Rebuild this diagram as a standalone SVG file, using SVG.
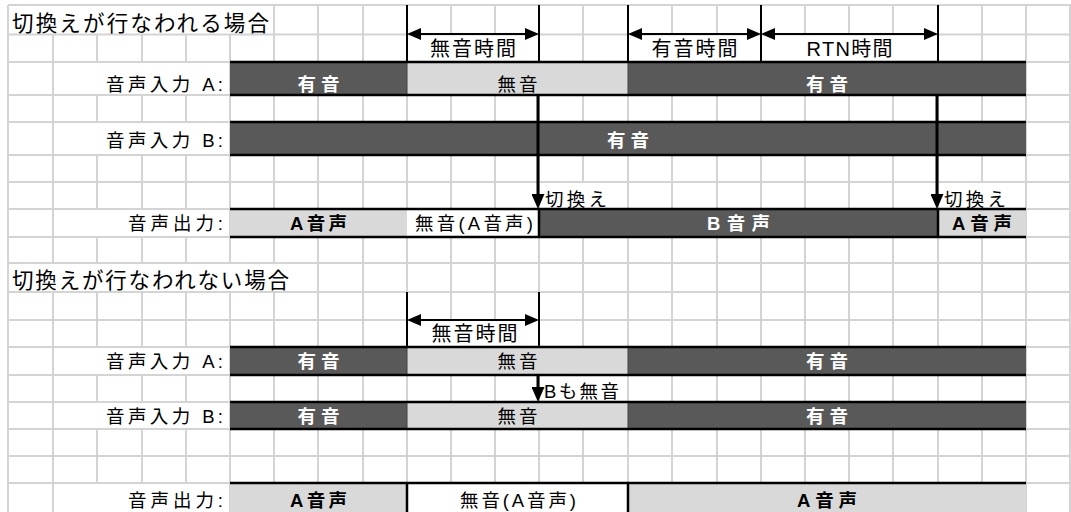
<svg xmlns="http://www.w3.org/2000/svg" width="1071" height="512" viewBox="0 0 1071 512">
<style>
.t{font-family:"Liberation Sans","Noto Sans CJK JP",sans-serif;font-size:18.5px;fill:#000;dominant-baseline:central}
.ttl{font-size:21.5px}
.tm{font-size:20px}
.w{fill:#fff;font-weight:bold}
.b{font-weight:bold}
.g{stroke:#d4d4d4;stroke-width:2;fill:none}
.dk{fill:#595959}
.lt{fill:#d9d9d9}
.wh{fill:#fff}
.bl{stroke:#000;stroke-width:2.5;fill:none}
.thin{stroke:#404040;stroke-width:1;fill:none}
.ln{stroke:#000;stroke-width:2;fill:none}
.arr{stroke:#000;stroke-width:2;fill:none;marker-start:url(#ah);marker-end:url(#ah)}
.dn{stroke:#000;stroke-width:3;fill:none;marker-end:url(#ad)}
</style>
<defs>
<marker id="ah" viewBox="0 0 14 12" refX="11" refY="6" markerWidth="14" markerHeight="12" markerUnits="userSpaceOnUse" orient="auto-start-reverse"><path d="M0,0L14,6L0,12z" fill="#000"/></marker>
<marker id="ad" viewBox="0 0 15 13" refX="9" refY="6.5" markerWidth="15" markerHeight="13" markerUnits="userSpaceOnUse" orient="auto"><path d="M0,0L15,6.5L0,13z" fill="#000"/></marker>
</defs>
<rect width="1071" height="512" fill="#fff"/>
<g id="grid" class="g">
<path d="M8,5H1071M8,34.5H1071M8,62H1071M8,95H1071M8,122H1071M8,155H1071M8,182H1071M8,209H1071M8,237H1071M8,263H1071M8,292H1071M8,320H1071M8,347H1071M8,375H1071M8,402H1071M8,429H1071M8,456H1071M8,483H1071"/>
<path d="M8,5V512M53,34.5V263M53,292V512
M97,34.5V62M97,95V122M97,155V209M97,237V263M97,292V347M97,375V402M97,429V483
M142,34.5V62M142,95V122M142,155V209M142,237V263M142,292V347M142,375V402M142,429V483
M186,34.5V62M186,95V122M186,155V209M186,237V263M186,292V347M186,375V402M186,429V483
M230,34.5V263M230,292V512M274,5V263M274,292V512M318,5V512M363,5V512M407,5V512
M451,5V34.5M451,62V320M451,347V512M495,5V34.5M495,62V320M495,347V512
M539,5V512M583,5V182M583,209V375M583,402V512M628,5V512
M672,5V34.5M672,62V512M717,5V34.5M717,62V512M761,5V512
M805,5V34.5M805,62V512M849,5V34.5M849,62V512M893,5V34.5M893,62V512
M938,5V512M982,5V182M982,209V512M1026,5V512M1070,5V512"/>
</g>
<g id="title-1"><text class="t ttl" x="12" y="24" textLength="257">切換えが行なわれる場合</text></g>
<g id="input-a-1">
<text class="t" x="223" y="84" text-anchor="end" textLength="117">音声入力 A:</text>
<rect class="dk" x="230" y="62" width="177" height="33"/>
<rect class="lt" x="407" y="62" width="221" height="33"/>
<rect class="dk" x="628" y="62" width="398" height="33"/>
<path class="thin" d="M407,62V95M628,62V95"/>
<path class="bl" d="M230,62H1026M230,95H1026"/>
<text class="t w" x="318.5" y="84" text-anchor="middle" textLength="42">有音</text>
<text class="t" x="517.5" y="84" text-anchor="middle" textLength="40">無音</text>
<text class="t w" x="827" y="84" text-anchor="middle" textLength="42">有音</text>
</g>
<g id="input-b-1">
<text class="t" x="223" y="140.5" text-anchor="end" textLength="117">音声入力 B:</text>
<rect class="dk" x="230" y="122" width="796" height="33"/>
<path class="bl" d="M230,122H1026M230,155H1026"/>
<text class="t w" x="628" y="140.5" text-anchor="middle" textLength="42">有音</text>
</g>
<g id="output-1">
<text class="t" x="223" y="223.5" text-anchor="end" textLength="95">音声出力:</text>
<rect class="lt" x="230" y="209" width="177" height="28"/>
<rect class="wh" x="407" y="209" width="132" height="28"/>
<rect class="dk" x="539" y="209" width="399" height="28"/>
<rect class="lt" x="938" y="209" width="88" height="28"/>
<path class="bl" d="M230,209H1026M230,237H1026M539,209V237M938,209V237"/>
<text class="t b" x="318.5" y="223.5" text-anchor="middle" textLength="57">A音声</text>
<text class="t" x="474" y="223.5" text-anchor="middle" textLength="118">無音(A音声)</text>
<text class="t w" x="738.5" y="223.5" text-anchor="middle" textLength="63">B音声</text>
<text class="t b" x="982" y="223.5" text-anchor="middle" textLength="60">A音声</text>
</g>
<g id="title-2"><text class="t ttl" x="12" y="281" textLength="277">切換えが行なわれない場合</text></g>
<g id="input-a-2">
<text class="t" x="223" y="361.5" text-anchor="end" textLength="117">音声入力 A:</text>
<rect class="dk" x="230" y="347" width="177" height="28"/>
<rect class="lt" x="407" y="347" width="221" height="28"/>
<rect class="dk" x="628" y="347" width="398" height="28"/>
<path class="thin" d="M407,347V375M628,347V375"/>
<path class="bl" d="M230,347H1026M230,375H1026"/>
<text class="t w" x="318.5" y="361.5" text-anchor="middle" textLength="42">有音</text>
<text class="t" x="517.5" y="361.5" text-anchor="middle" textLength="40">無音</text>
<text class="t w" x="827" y="361.5" text-anchor="middle" textLength="42">有音</text>
</g>
<g id="input-b-2">
<text class="t" x="223" y="416.5" text-anchor="end" textLength="117">音声入力 B:</text>
<rect class="dk" x="230" y="402" width="177" height="27"/>
<rect class="lt" x="407" y="402" width="221" height="27"/>
<rect class="dk" x="628" y="402" width="398" height="27"/>
<path class="thin" d="M407,402V429M628,402V429"/>
<path class="bl" d="M230,402H1026M230,429H1026"/>
<text class="t w" x="318.5" y="416.5" text-anchor="middle" textLength="42">有音</text>
<text class="t" x="517.5" y="416.5" text-anchor="middle" textLength="40">無音</text>
<text class="t w" x="827" y="416.5" text-anchor="middle" textLength="42">有音</text>
</g>
<g id="output-2">
<text class="t" x="223" y="500" text-anchor="end" textLength="95">音声出力:</text>
<rect class="lt" x="230" y="483" width="177" height="29"/>
<rect class="wh" x="407" y="483" width="221" height="29"/>
<rect class="lt" x="628" y="483" width="398" height="29"/>
<path class="bl" d="M230,483H1026M407,483V512M628,483V512"/>
<text class="t b" x="318.5" y="500" text-anchor="middle" textLength="57">A音声</text>
<text class="t" x="518" y="500" text-anchor="middle" textLength="116">無音(A音声)</text>
<text class="t b" x="827" y="500" text-anchor="middle" textLength="60">A音声</text>
</g>
<g id="connectors">
<path class="ln" d="M407,5V62M539,5V62M628,5V62M761,5V62M938,5V62M407,292V347M539,292V347"/>
<line class="arr" x1="410" y1="34" x2="536" y2="34"/>
<line class="arr" x1="631" y1="34" x2="758" y2="34"/>
<line class="arr" x1="764" y1="34" x2="935" y2="34"/>
<line class="arr" x1="410" y1="320" x2="536" y2="320"/>
<line class="dn" x1="538" y1="95" x2="538" y2="203"/>
<line class="dn" x1="937" y1="95" x2="937" y2="203"/>
<line class="dn" x1="538" y1="375" x2="538" y2="396"/>
</g>
<g id="labels">
<text class="t tm" x="473" y="49" text-anchor="middle" textLength="86">無音時間</text>
<text class="t tm" x="694.5" y="49" text-anchor="middle" textLength="86">有音時間</text>
<text class="t tm" x="849.5" y="49" text-anchor="middle" textLength="86">RTN時間</text>
<text class="t" x="545" y="199.5" textLength="62">切換え</text>
<text class="t" x="944" y="199.5" textLength="62">切換え</text>
<text class="t tm" x="474.5" y="334" text-anchor="middle" textLength="86">無音時間</text>
<text class="t" x="544" y="391" textLength="75">Bも無音</text>
</g>
</svg>
